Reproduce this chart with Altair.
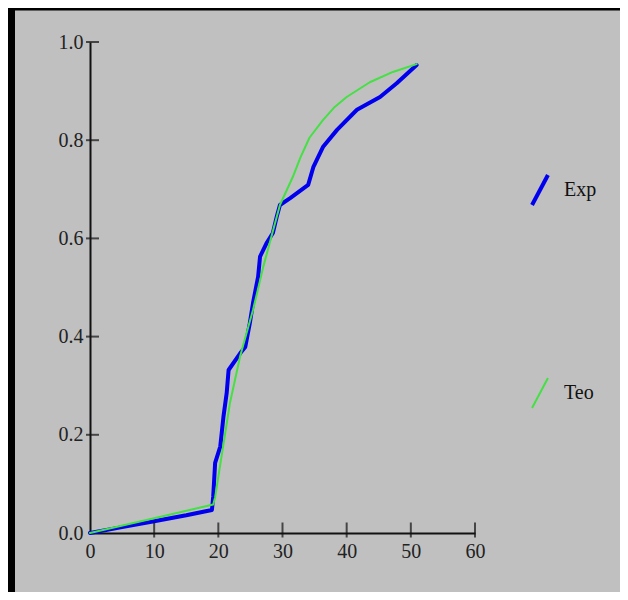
import altair as alt
import pandas as pd

# --- data ---
exp_x = [0, 5, 10, 15, 19.0, 19.2, 19.5, 20.3, 20.8, 21.3, 21.6, 23.4, 24.2, 24.9, 25.4,
         26.2, 26.5, 27.5, 28.5, 29.1, 29.6, 31.2, 34.0, 34.8, 36.3, 38.5, 41.6, 45.2, 47.8, 50.9]
exp_y = [0, 0.012, 0.024, 0.036, 0.047, 0.074, 0.143, 0.176, 0.237, 0.285, 0.332, 0.366, 0.379,
         0.427, 0.468, 0.522, 0.563, 0.590, 0.611, 0.644, 0.668, 0.682, 0.709, 0.745, 0.786,
         0.821, 0.862, 0.888, 0.916, 0.953]
teo_x = [0, 10, 19.2, 19.5, 21.8, 23.4, 25.4, 27.0, 29.6, 31.6, 32.8, 34.2, 36.3, 38.0, 40.0,
         43.6, 47.2, 50.9]
teo_y = [0, 0.03, 0.058, 0.073, 0.264, 0.36, 0.454, 0.542, 0.668, 0.725, 0.765, 0.805, 0.841,
         0.866, 0.888, 0.918, 0.939, 0.955]

series_names = ["Exp", "Teo"]
series_colors = ["#0000ee", "#44e044"]
series_widths = [4, 2]
x_ticks = [0, 10, 20, 30, 40, 50, 60]
y_ticks = [0.0, 0.2, 0.4, 0.6, 0.8, 1.0]

rows = []
for i, (x, y) in enumerate(zip(exp_x, exp_y)):
    rows.append({"series": "Exp", "x": x, "y": y, "i": i})
for i, (x, y) in enumerate(zip(teo_x, teo_y)):
    rows.append({"series": "Teo", "x": x, "y": y, "i": i})
df = pd.DataFrame(rows)

xt_df = pd.DataFrame({"x": [v for v in x_ticks if v > 0], "y": 0.0})
yt_df = pd.DataFrame({"x": 0.0, "y": [v for v in y_ticks if v > 0]})

font = "Liberation Serif"
xscale = alt.Scale(domain=[0, 60], nice=False, zero=False)
yscale = alt.Scale(domain=[0, 1], nice=False, zero=False)

x_axis = alt.Axis(values=x_ticks, format="d", title=None, ticks=False, tickSize=0,
                  labelPadding=8, grid=False, domainColor="#111111", domainWidth=2,
                  labelFont=font, labelFontSize=20, labelColor="#222222",
                  labelFlush=False, labelOverlap=False)
y_axis = alt.Axis(values=y_ticks, format=".1f", title=None, ticks=False, tickSize=0,
                  labelPadding=7, grid=False, domainColor="#111111", domainWidth=2,
                  labelFont=font, labelFontSize=20, labelColor="#222222",
                  labelFlush=False, labelOverlap=False)

leg = alt.Legend(orient="none", legendX=433, legendY=131, title=None,
                 symbolType="M-0.53,1L0.53,-1", symbolSize=900,
                 labelFont=font, labelFontSize=20, labelColor="#111111",
                 rowPadding=161, labelOffset=7, padding=0)

lines = alt.Chart(df).mark_line(strokeCap="round", strokeJoin="round").encode(
    x=alt.X("x:Q", scale=xscale, axis=x_axis),
    y=alt.Y("y:Q", scale=yscale, axis=y_axis),
    color=alt.Color("series:N", scale=alt.Scale(domain=series_names, range=series_colors), legend=leg),
    strokeWidth=alt.StrokeWidth("series:N", scale=alt.Scale(domain=series_names, range=series_widths), legend=leg),
    order=alt.Order("i:Q"),
)

xticks_layer = alt.Chart(xt_df).mark_tick(orient="vertical", color="#111111", thickness=2).encode(
    x=alt.X("x:Q", scale=xscale, axis=x_axis),
    y=alt.Y("y:Q", scale=yscale, axis=y_axis),
    size=alt.value(15),
    yOffset=alt.value(-3),
)
yticks_layer = alt.Chart(yt_df).mark_tick(orient="horizontal", color="#111111", thickness=2).encode(
    x=alt.X("x:Q", scale=xscale, axis=x_axis),
    y=alt.Y("y:Q", scale=yscale, axis=y_axis),
    size=alt.value(13),
    xOffset=alt.value(2.5),
)

frame_df = pd.DataFrame({"k": [0]})
frame_left = alt.Chart(frame_df).mark_rule(color="black", strokeWidth=7).encode(
    x=alt.value(-78.5), y=alt.value(-34), y2=alt.value(560))
frame_top = alt.Chart(frame_df).mark_rule(color="black", strokeWidth=3).encode(
    x=alt.value(-82), x2=alt.value(540), y=alt.value(-33))

chart = alt.layer(frame_left, frame_top, lines, xticks_layer, yticks_layer).properties(
    width=385, height=491,
    padding={"left": 82, "top": 34, "right": 145, "bottom": 59},
    autosize=alt.AutoSizeParams(type="none"),
    background="#c0c0c0",
).configure_view(stroke=None)

chart.save("out.html", embed_options={"renderer": "svg", "actions": False})
